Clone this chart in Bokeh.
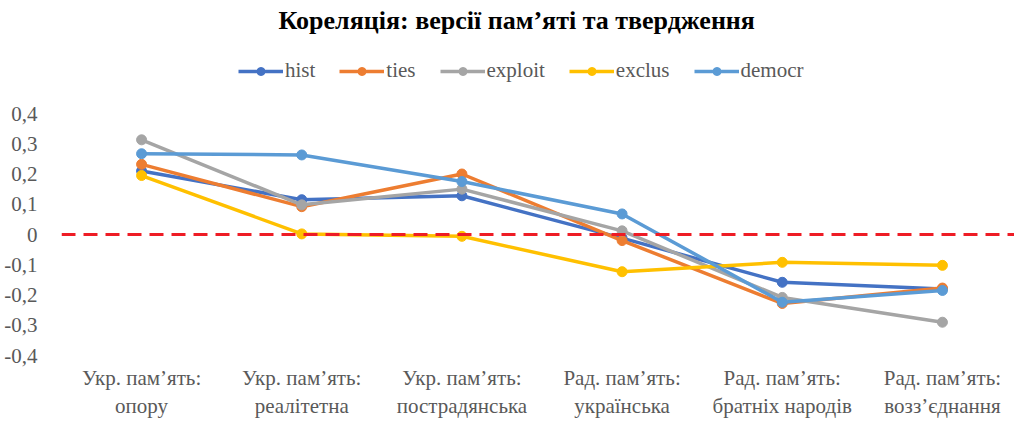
from bokeh.plotting import figure
from bokeh.models import Range1d, FixedTicker, Legend, LegendItem, Span, Label
from bokeh.embed import file_html
from bokeh.resources import INLINE

title_text = "Кореляція: версії пам’яті та  твердження"
categories = ["Укр. пам’ять:\nопору", "Укр. пам’ять:\nреалітетна", "Укр. пам’ять:\nпострадянська",
              "Рад. пам’ять:\nукраїнська", "Рад. пам’ять:\nбратніх народів", "Рад. пам’ять:\nвозз’єднання"]
hist = [0.21, 0.115, 0.128, -0.012, -0.158, -0.180]
ties = [0.232, 0.092, 0.200, -0.020, -0.228, -0.177]
exploit = [0.313, 0.098, 0.150, 0.012, -0.208, -0.290]
exclus = [0.195, 0.002, -0.006, -0.123, -0.092, -0.102]
democr = [0.267, 0.263, 0.175, 0.068, -0.224, -0.185]
series_names = ["hist", "ties", "exploit", "exclus", "democr"]
series_values = [hist, ties, exploit, exclus, democr]
colors = ["#4472C4", "#ED7D31", "#A5A5A5", "#FFC000", "#5B9BD5"]
y_ticks = [-0.4, -0.3, -0.2, -0.1, 0.0, 0.1, 0.2, 0.3, 0.4]
y_tick_labels = ["-0,4", "-0,3", "-0,2", "-0,1", "0", "0,1", "0,2", "0,3", "0,4"]

x = list(range(len(categories)))

# frame spans the full height down to the -0,4 line; the top part holds title & legend
p = figure(width=1014, height=421, output_backend="svg", toolbar_location=None,
           x_range=Range1d(-0.5, 5.45), y_range=Range1d(-0.4, 0.7736),
           min_border_left=61, min_border_right=0, min_border_bottom=66, min_border_top=0)
p.outline_line_color = None
p.xgrid.visible = False
p.ygrid.visible = False
p.background_fill_color = "white"
p.border_fill_color = "white"

font = "Liberation Serif"
for ax in (p.xaxis[0], p.yaxis[0]):
    ax.axis_line_color = None
    ax.major_tick_line_color = None
    ax.minor_tick_line_color = None
    ax.major_label_text_font = font
    ax.major_label_text_font_size = "21px"
    ax.major_label_text_color = "#595959"

p.xaxis.ticker = FixedTicker(ticks=x)
p.xaxis.major_label_overrides = {i: c for i, c in zip(x, categories)}
p.xaxis.major_label_standoff = 4
p.yaxis.ticker = FixedTicker(ticks=y_ticks)
p.yaxis.major_label_overrides = {t: l for t, l in zip(y_ticks, y_tick_labels)}
p.yaxis.major_label_standoff = 18

p.add_layout(Span(location=0, dimension="width", line_color="#EE1C25", line_width=3, line_dash="14 8"))

items = []
for name, vals, col in zip(series_names, series_values, colors):
    r1 = p.line(x, vals, line_color=col, line_width=3.5)
    r2 = p.scatter(x, vals, size=10, fill_color=col, line_color=col)
    items.append(LegendItem(label=name, renderers=[r1, r2]))

legend = Legend(items=items, orientation="horizontal", location=(177, 272),
                label_text_font=font, label_text_font_size="21px", label_text_color="#595959",
                glyph_width=45, glyph_height=20, label_height=20, label_standoff=2, spacing=24,
                border_line_color=None, background_fill_alpha=0, padding=0, margin=0)
p.add_layout(legend, "center")

p.add_layout(Label(x=2.3625, y=0.7074, text=title_text, text_font=font, text_font_style="bold",
                   text_font_size="26px", text_color="#000000", text_align="center",
                   text_baseline="middle"))

open("out.html", "w").write(file_html(p, INLINE))
